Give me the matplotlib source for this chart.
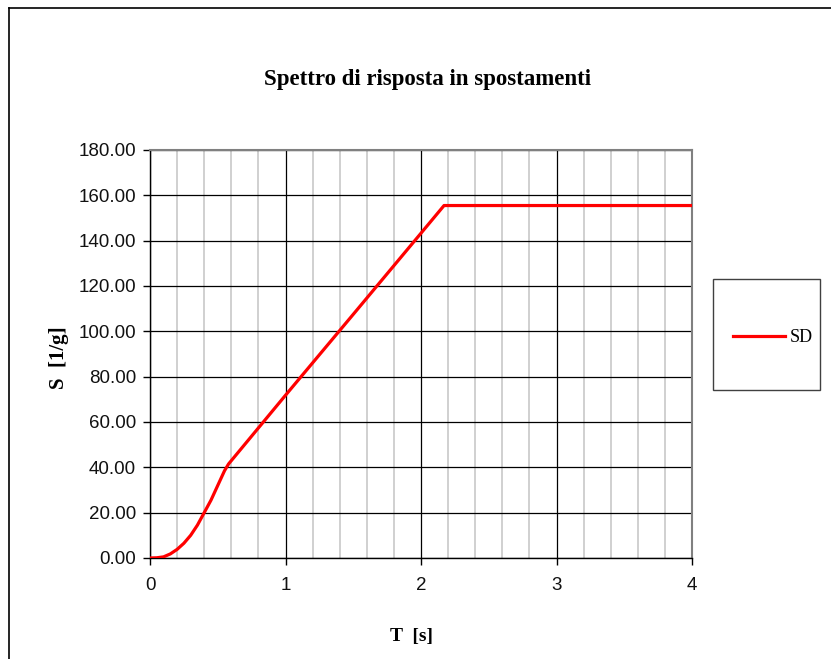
import matplotlib.pyplot as plt
from matplotlib.patches import Rectangle
from matplotlib.lines import Line2D
import numpy as np

# periodo T [s] e spostamento spettrale SD [1/g]
T = [0.0, 0.05, 0.10, 0.15, 0.20, 0.25, 0.30, 0.35, 0.40, 0.45, 0.50, 0.55, 0.58,
     1.0, 1.5, 2.0, 2.17, 4.0]
SD = [0.0, 0.1, 0.5, 1.8, 3.8, 6.5, 10.0, 14.5, 20.0, 25.5, 32.0, 38.5, 41.5,
      71.8, 107.5, 143.3, 155.5, 155.5]

xticks = [0, 1, 2, 3, 4]
yticks = list(range(0, 181, 20))

sans = 'Liberation Sans'
serif = 'Liberation Serif'

fig = plt.figure(figsize=(8.31, 6.59), dpi=100)
ax = fig.add_axes([150/831, 1 - 558/659, 542/831, 408/659])

ax.plot(T, SD, color='#ff0000', lw=2.3, solid_joinstyle='round', zorder=3)

ax.set_xlim(0, 4)
ax.set_ylim(0, 180)
ax.set_xticks(xticks)
ax.set_xticks(np.arange(0, 4.01, 0.2), minor=True)
ax.set_yticks(yticks)
ax.set_yticklabels([f'{v:.2f}' for v in yticks])
ax.grid(which='minor', axis='x', color='#c8c8c8', lw=1.2, zorder=0)
ax.grid(which='major', color='black', lw=0.9, zorder=1)
ax.tick_params(which='minor', length=0)
ax.tick_params(which='major', direction='out', length=5, width=1, color='black',
               labelsize=13.5, labelcolor='#111111')
ax.tick_params(axis='x', pad=9)
ax.tick_params(axis='y', pad=5)
for lab in ax.get_xticklabels() + ax.get_yticklabels():
    lab.set_family(sans)
for s in ['top', 'right']:
    ax.spines[s].set_color('#808080')
    ax.spines[s].set_linewidth(1.5)
for s in ['left', 'bottom']:
    ax.spines[s].set_color('black')
    ax.spines[s].set_linewidth(1)

fig.text(427/831, 1 - 80/659, 'Spettro di risposta in spostamenti', ha='center', va='center',
         family=serif, weight='bold', fontsize=16.5)
fig.text(411/831, 1 - 637/659, 'T  [s]', ha='center', va='center',
         family=serif, weight='bold', fontsize=14)
fig.text(59/831, 1 - 358/659, 'S  [1/g]', ha='center', va='center', rotation=90,
         family=serif, weight='bold', fontsize=15)

# cornice del grafico (solo lati sinistro e superiore visibili)
fig.add_artist(Line2D([9/831, 9/831], [0, 1 - 8/659], color='black', lw=1.2,
                      transform=fig.transFigure))
fig.add_artist(Line2D([9/831, 1], [1 - 8/659, 1 - 8/659], color='black', lw=1.2,
                      transform=fig.transFigure))

# legenda
fig.add_artist(Rectangle((713/831, 1 - 390/659), 107/831, 111/659, fill=False,
                         edgecolor='#404040', lw=1, transform=fig.transFigure))
handle = Line2D([], [], color='#ff0000', lw=2.3)
fig.legend([handle], ['SD'], loc='center left', bbox_to_anchor=(733/831, 1 - 338/659),
           frameon=False, borderpad=0, borderaxespad=0, handlelength=2.9,
           handletextpad=0.25, prop={'family': serif, 'size': 13})

fig.savefig('out.png', dpi=100)
